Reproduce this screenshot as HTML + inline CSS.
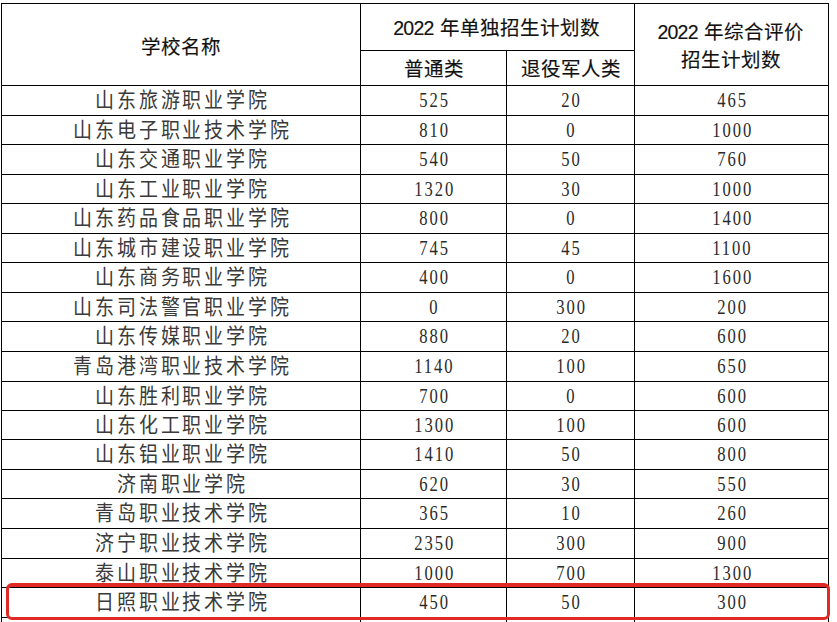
<!DOCTYPE html><html lang="zh-CN"><head><meta charset="utf-8"><style>
html,body{margin:0;padding:0;background:#fff;width:837px;height:622px;overflow:hidden;}
.c{position:absolute;display:flex;align-items:center;justify-content:center;white-space:nowrap;color:#111;}
.h{font-family:"Liberation Sans",sans-serif;font-size:19.5px;-webkit-text-stroke:0.15px #111;}
.n{font-family:"Liberation Serif",serif;font-size:20px;letter-spacing:2.3px;color:#2a2a2a}
.n span{display:inline-block;transform:scaleX(0.83);padding-left:2.3px}
.s span{padding-left:2.8px;display:inline-block;transform:scaleY(1.1)}
.s{font-family:"Liberation Serif",serif;font-size:19px;letter-spacing:2.8px;color:#3a3a3a}
.hl{line-height:28px;text-align:center;}
</style></head><body>
<div style="position:absolute;left:1px;top:3px;width:828px;height:1px;background:#000"></div>
<div style="position:absolute;left:360px;top:50px;width:275px;height:1px;background:#000"></div>
<div style="position:absolute;left:1px;top:85px;width:828px;height:1px;background:#000"></div>
<div style="position:absolute;left:1px;top:115px;width:828px;height:1px;background:#000"></div>
<div style="position:absolute;left:1px;top:144px;width:828px;height:1px;background:#000"></div>
<div style="position:absolute;left:1px;top:174px;width:828px;height:1px;background:#000"></div>
<div style="position:absolute;left:1px;top:203px;width:828px;height:1px;background:#000"></div>
<div style="position:absolute;left:1px;top:233px;width:828px;height:1px;background:#000"></div>
<div style="position:absolute;left:1px;top:262px;width:828px;height:1px;background:#000"></div>
<div style="position:absolute;left:1px;top:292px;width:828px;height:1px;background:#000"></div>
<div style="position:absolute;left:1px;top:321px;width:828px;height:1px;background:#000"></div>
<div style="position:absolute;left:1px;top:351px;width:828px;height:1px;background:#000"></div>
<div style="position:absolute;left:1px;top:381px;width:828px;height:1px;background:#000"></div>
<div style="position:absolute;left:1px;top:410px;width:828px;height:1px;background:#000"></div>
<div style="position:absolute;left:1px;top:439px;width:828px;height:1px;background:#000"></div>
<div style="position:absolute;left:1px;top:469px;width:828px;height:1px;background:#000"></div>
<div style="position:absolute;left:1px;top:498px;width:828px;height:1px;background:#000"></div>
<div style="position:absolute;left:1px;top:528px;width:828px;height:1px;background:#000"></div>
<div style="position:absolute;left:1px;top:558px;width:828px;height:1px;background:#000"></div>
<div style="position:absolute;left:1px;top:587px;width:828px;height:1px;background:#000"></div>
<div style="position:absolute;left:1px;top:617px;width:828px;height:1px;background:#000"></div>
<div style="position:absolute;left:1px;top:3px;width:1px;height:619px;background:#000"></div>
<div style="position:absolute;left:360px;top:3px;width:1px;height:619px;background:#000"></div>
<div style="position:absolute;left:506px;top:50px;width:1px;height:572px;background:#000"></div>
<div style="position:absolute;left:634px;top:3px;width:1px;height:619px;background:#000"></div>
<div style="position:absolute;left:828px;top:3px;width:1px;height:619px;background:#000"></div>
<div class="c h" style="left:1.50px;top:4.80px;width:359.00px;height:82.00px"><span style="position:relative;left:0px;top:0px">学校名称</span></div>
<div class="c h" style="left:359.50px;top:2.60px;width:274.00px;height:47.00px"><span style="position:relative;left:0px;top:0px"><i style="font-style:normal;letter-spacing:-0.8px">202</i>2 年单独招生计划数</span></div>
<div class="c h" style="left:360.50px;top:49.80px;width:146.00px;height:35.00px"><span style="position:relative;left:0px;top:0px">普通类</span></div>
<div class="c h" style="left:506.50px;top:49.80px;width:128.00px;height:35.00px"><span style="position:relative;left:0px;top:0px">退役军人类</span></div>
<div class="c h hl" style="left:633.70px;top:5.00px;width:194.00px;height:82.00px"><span style="position:relative;left:0px;top:0px"><i style="font-style:normal;letter-spacing:-0.8px">202</i>2 年综合评价<br>招生计划数</span></div>
<div class="c s" style="left:1.50px;top:82.50px;width:359.00px;height:30.00px"><span style="position:relative;left:0px;top:0px">山东旅游职业学院</span></div>
<div class="c n" style="left:360.50px;top:85.50px;width:146.00px;height:30.00px"><span style="position:relative;left:0px;top:0px">525</span></div>
<div class="c n" style="left:506.50px;top:85.50px;width:128.00px;height:30.00px"><span style="position:relative;left:0px;top:0px">20</span></div>
<div class="c n" style="left:634.50px;top:85.50px;width:194.00px;height:30.00px"><span style="position:relative;left:0px;top:0px">465</span></div>
<div class="c s" style="left:1.50px;top:112.50px;width:359.00px;height:29.00px"><span style="position:relative;left:0px;top:0px">山东电子职业技术学院</span></div>
<div class="c n" style="left:360.50px;top:115.50px;width:146.00px;height:29.00px"><span style="position:relative;left:0px;top:0px">810</span></div>
<div class="c n" style="left:506.50px;top:115.50px;width:128.00px;height:29.00px"><span style="position:relative;left:0px;top:0px">0</span></div>
<div class="c n" style="left:634.50px;top:115.50px;width:194.00px;height:29.00px"><span style="position:relative;left:0px;top:0px">1000</span></div>
<div class="c s" style="left:1.50px;top:141.50px;width:359.00px;height:30.00px"><span style="position:relative;left:0px;top:0px">山东交通职业学院</span></div>
<div class="c n" style="left:360.50px;top:144.50px;width:146.00px;height:30.00px"><span style="position:relative;left:0px;top:0px">540</span></div>
<div class="c n" style="left:506.50px;top:144.50px;width:128.00px;height:30.00px"><span style="position:relative;left:0px;top:0px">50</span></div>
<div class="c n" style="left:634.50px;top:144.50px;width:194.00px;height:30.00px"><span style="position:relative;left:0px;top:0px">760</span></div>
<div class="c s" style="left:1.50px;top:171.50px;width:359.00px;height:29.00px"><span style="position:relative;left:0px;top:0px">山东工业职业学院</span></div>
<div class="c n" style="left:360.50px;top:174.50px;width:146.00px;height:29.00px"><span style="position:relative;left:0px;top:0px">1320</span></div>
<div class="c n" style="left:506.50px;top:174.50px;width:128.00px;height:29.00px"><span style="position:relative;left:0px;top:0px">30</span></div>
<div class="c n" style="left:634.50px;top:174.50px;width:194.00px;height:29.00px"><span style="position:relative;left:0px;top:0px">1000</span></div>
<div class="c s" style="left:1.50px;top:200.50px;width:359.00px;height:30.00px"><span style="position:relative;left:0px;top:0px">山东药品食品职业学院</span></div>
<div class="c n" style="left:360.50px;top:203.50px;width:146.00px;height:30.00px"><span style="position:relative;left:0px;top:0px">800</span></div>
<div class="c n" style="left:506.50px;top:203.50px;width:128.00px;height:30.00px"><span style="position:relative;left:0px;top:0px">0</span></div>
<div class="c n" style="left:634.50px;top:203.50px;width:194.00px;height:30.00px"><span style="position:relative;left:0px;top:0px">1400</span></div>
<div class="c s" style="left:1.50px;top:230.50px;width:359.00px;height:29.00px"><span style="position:relative;left:0px;top:0px">山东城市建设职业学院</span></div>
<div class="c n" style="left:360.50px;top:233.50px;width:146.00px;height:29.00px"><span style="position:relative;left:0px;top:0px">745</span></div>
<div class="c n" style="left:506.50px;top:233.50px;width:128.00px;height:29.00px"><span style="position:relative;left:0px;top:0px">45</span></div>
<div class="c n" style="left:634.50px;top:233.50px;width:194.00px;height:29.00px"><span style="position:relative;left:0px;top:0px">1100</span></div>
<div class="c s" style="left:1.50px;top:259.50px;width:359.00px;height:30.00px"><span style="position:relative;left:0px;top:0px">山东商务职业学院</span></div>
<div class="c n" style="left:360.50px;top:262.50px;width:146.00px;height:30.00px"><span style="position:relative;left:0px;top:0px">400</span></div>
<div class="c n" style="left:506.50px;top:262.50px;width:128.00px;height:30.00px"><span style="position:relative;left:0px;top:0px">0</span></div>
<div class="c n" style="left:634.50px;top:262.50px;width:194.00px;height:30.00px"><span style="position:relative;left:0px;top:0px">1600</span></div>
<div class="c s" style="left:1.50px;top:289.50px;width:359.00px;height:29.00px"><span style="position:relative;left:0px;top:0px">山东司法警官职业学院</span></div>
<div class="c n" style="left:360.50px;top:292.50px;width:146.00px;height:29.00px"><span style="position:relative;left:0px;top:0px">0</span></div>
<div class="c n" style="left:506.50px;top:292.50px;width:128.00px;height:29.00px"><span style="position:relative;left:0px;top:0px">300</span></div>
<div class="c n" style="left:634.50px;top:292.50px;width:194.00px;height:29.00px"><span style="position:relative;left:0px;top:0px">200</span></div>
<div class="c s" style="left:1.50px;top:318.50px;width:359.00px;height:30.00px"><span style="position:relative;left:0px;top:0px">山东传媒职业学院</span></div>
<div class="c n" style="left:360.50px;top:321.50px;width:146.00px;height:30.00px"><span style="position:relative;left:0px;top:0px">880</span></div>
<div class="c n" style="left:506.50px;top:321.50px;width:128.00px;height:30.00px"><span style="position:relative;left:0px;top:0px">20</span></div>
<div class="c n" style="left:634.50px;top:321.50px;width:194.00px;height:30.00px"><span style="position:relative;left:0px;top:0px">600</span></div>
<div class="c s" style="left:1.50px;top:348.50px;width:359.00px;height:30.00px"><span style="position:relative;left:0px;top:0px">青岛港湾职业技术学院</span></div>
<div class="c n" style="left:360.50px;top:351.50px;width:146.00px;height:30.00px"><span style="position:relative;left:0px;top:0px">1140</span></div>
<div class="c n" style="left:506.50px;top:351.50px;width:128.00px;height:30.00px"><span style="position:relative;left:0px;top:0px">100</span></div>
<div class="c n" style="left:634.50px;top:351.50px;width:194.00px;height:30.00px"><span style="position:relative;left:0px;top:0px">650</span></div>
<div class="c s" style="left:1.50px;top:378.50px;width:359.00px;height:29.00px"><span style="position:relative;left:0px;top:0px">山东胜利职业学院</span></div>
<div class="c n" style="left:360.50px;top:381.50px;width:146.00px;height:29.00px"><span style="position:relative;left:0px;top:0px">700</span></div>
<div class="c n" style="left:506.50px;top:381.50px;width:128.00px;height:29.00px"><span style="position:relative;left:0px;top:0px">0</span></div>
<div class="c n" style="left:634.50px;top:381.50px;width:194.00px;height:29.00px"><span style="position:relative;left:0px;top:0px">600</span></div>
<div class="c s" style="left:1.50px;top:407.50px;width:359.00px;height:29.00px"><span style="position:relative;left:0px;top:0px">山东化工职业学院</span></div>
<div class="c n" style="left:360.50px;top:410.50px;width:146.00px;height:29.00px"><span style="position:relative;left:0px;top:0px">1300</span></div>
<div class="c n" style="left:506.50px;top:410.50px;width:128.00px;height:29.00px"><span style="position:relative;left:0px;top:0px">100</span></div>
<div class="c n" style="left:634.50px;top:410.50px;width:194.00px;height:29.00px"><span style="position:relative;left:0px;top:0px">600</span></div>
<div class="c s" style="left:1.50px;top:436.50px;width:359.00px;height:30.00px"><span style="position:relative;left:0px;top:0px">山东铝业职业学院</span></div>
<div class="c n" style="left:360.50px;top:439.50px;width:146.00px;height:30.00px"><span style="position:relative;left:0px;top:0px">1410</span></div>
<div class="c n" style="left:506.50px;top:439.50px;width:128.00px;height:30.00px"><span style="position:relative;left:0px;top:0px">50</span></div>
<div class="c n" style="left:634.50px;top:439.50px;width:194.00px;height:30.00px"><span style="position:relative;left:0px;top:0px">800</span></div>
<div class="c s" style="left:1.50px;top:466.50px;width:359.00px;height:29.00px"><span style="position:relative;left:0px;top:0px">济南职业学院</span></div>
<div class="c n" style="left:360.50px;top:469.50px;width:146.00px;height:29.00px"><span style="position:relative;left:0px;top:0px">620</span></div>
<div class="c n" style="left:506.50px;top:469.50px;width:128.00px;height:29.00px"><span style="position:relative;left:0px;top:0px">30</span></div>
<div class="c n" style="left:634.50px;top:469.50px;width:194.00px;height:29.00px"><span style="position:relative;left:0px;top:0px">550</span></div>
<div class="c s" style="left:1.50px;top:495.50px;width:359.00px;height:30.00px"><span style="position:relative;left:0px;top:0px">青岛职业技术学院</span></div>
<div class="c n" style="left:360.50px;top:498.50px;width:146.00px;height:30.00px"><span style="position:relative;left:0px;top:0px">365</span></div>
<div class="c n" style="left:506.50px;top:498.50px;width:128.00px;height:30.00px"><span style="position:relative;left:0px;top:0px">10</span></div>
<div class="c n" style="left:634.50px;top:498.50px;width:194.00px;height:30.00px"><span style="position:relative;left:0px;top:0px">260</span></div>
<div class="c s" style="left:1.50px;top:525.50px;width:359.00px;height:30.00px"><span style="position:relative;left:0px;top:0px">济宁职业技术学院</span></div>
<div class="c n" style="left:360.50px;top:528.50px;width:146.00px;height:30.00px"><span style="position:relative;left:0px;top:0px">2350</span></div>
<div class="c n" style="left:506.50px;top:528.50px;width:128.00px;height:30.00px"><span style="position:relative;left:0px;top:0px">300</span></div>
<div class="c n" style="left:634.50px;top:528.50px;width:194.00px;height:30.00px"><span style="position:relative;left:0px;top:0px">900</span></div>
<div class="c s" style="left:1.50px;top:555.50px;width:359.00px;height:29.00px"><span style="position:relative;left:0px;top:0px">泰山职业技术学院</span></div>
<div class="c n" style="left:360.50px;top:558.50px;width:146.00px;height:29.00px"><span style="position:relative;left:0px;top:0px">1000</span></div>
<div class="c n" style="left:506.50px;top:558.50px;width:128.00px;height:29.00px"><span style="position:relative;left:0px;top:0px">700</span></div>
<div class="c n" style="left:634.50px;top:558.50px;width:194.00px;height:29.00px"><span style="position:relative;left:0px;top:0px">1300</span></div>
<div class="c s" style="left:1.50px;top:584.50px;width:359.00px;height:30.00px"><span style="position:relative;left:0px;top:0px">日照职业技术学院</span></div>
<div class="c n" style="left:360.50px;top:587.50px;width:146.00px;height:30.00px"><span style="position:relative;left:0px;top:0px">450</span></div>
<div class="c n" style="left:506.50px;top:587.50px;width:128.00px;height:30.00px"><span style="position:relative;left:0px;top:0px">50</span></div>
<div class="c n" style="left:634.50px;top:587.50px;width:194.00px;height:30.00px"><span style="position:relative;left:0px;top:0px">300</span></div>
<div style="position:absolute;left:5.7px;top:583.2px;width:824.6px;height:36.5px;border:3.7px solid #e02a25;border-top-width:4.5px;border-radius:6px;box-sizing:border-box"></div>
</body></html>
